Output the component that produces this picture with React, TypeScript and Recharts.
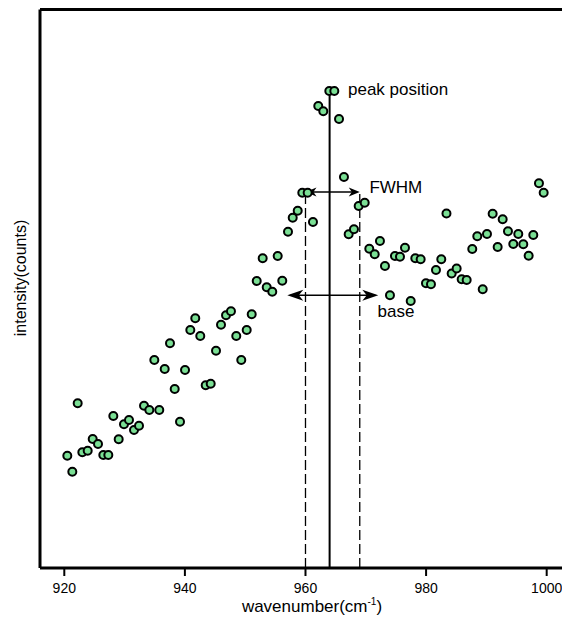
import React from 'react';
import { ScatterChart, Scatter, XAxis, YAxis, ReferenceLine, ReferenceDot } from 'recharts';

const wavenumber = [
  920.5, 921.33, 922.22, 922.99, 923.88, 924.71, 925.59, 926.47, 927.3, 928.13,
  929.02, 929.9, 930.73, 931.56, 932.39, 933.22, 934.1, 934.93, 935.75, 936.65,
  937.53, 938.31, 939.19, 940.02, 940.9, 941.72, 942.55, 943.45, 944.28, 945.16,
  945.99, 946.82, 947.64, 948.52, 949.35, 950.25, 951.08, 951.91, 952.9, 953.57,
  954.49, 955.39, 956.15, 957.1, 957.88, 958.71, 959.47, 960.36, 961.24, 962.12,
  962.95, 963.95, 964.78, 965.56, 966.38, 967.16, 968.04, 968.82, 969.82, 970.58,
  971.48, 972.35, 973.18, 974.01, 974.84, 975.67, 976.5, 977.45, 978.21, 979.1,
  979.98, 980.81, 981.64, 982.52, 983.38, 984.24, 985.07, 985.9, 986.73, 987.66,
  988.49, 989.39, 990.1, 991.04, 991.87, 992.7, 993.58, 994.46, 995.29, 996.12,
  997.01, 997.78, 998.72, 999.5,
];

const intensity = [
  114.3, 98.3, 166.7, 117.7, 119.3, 131, 126, 115, 115, 154,
  130.7, 145.7, 150, 140, 144.3, 164.3, 160, 210, 160, 201,
  226.7, 181, 148.3, 200, 240, 251.7, 234, 184.7, 186.3, 219.3,
  245.3, 254.7, 258.7, 234, 210, 240, 255.7, 289, 311.7, 282.7,
  278.3, 314, 289.3, 338.3, 352.3, 359.3, 377.3, 377.3, 348, 464,
  458.7, 479, 479, 451, 393, 335.7, 340.7, 364, 367.3, 321.3,
  315.7, 329, 304, 274.7, 314, 313.3, 322.3, 269, 311.7, 310.7,
  286.7, 285.7, 300, 310.7, 356.5, 296.5, 301.5, 290.7, 290, 321,
  333.7, 280.7, 336, 356.3, 323, 350.7, 338.7, 326, 336, 325.7,
  314.3, 335, 386.7, 377.3,
];

const xTicks = [920, 940, 960, 980, 1000];
const xDomain = [915.97, 1002.54];
const yDomain = [2, 560.5];

const peakPosition = 964;
const peakTop = 479;
const fwhmLeft = 960;
const fwhmRight = 969;
const fwhmLevel = 378;
const baseLeft = 956.98;
const baseRight = 972.07;
const baseLevel = 274.7;

const peakLabel = { text: 'peak position', x: 967.05, y: 475 };
const fwhmLabel = { text: 'FWHM', x: 970.6, y: 376.7 };
const baseLabel = { text: 'base', x: 971.95, y: 253.3 };

const FONT = '"Liberation Sans", Arial, Helvetica, sans-serif';
const GREEN = '#7ADF94';

const data = wavenumber.map((x, i) => ({ x, y: intensity[i] }));

function arrowHead(tipX: number, tipY: number, dir: number, len: number, half: number) {
  const bx = tipX - dir * len;
  const nx = tipX - dir * len * 0.72;
  return `M${tipX},${tipY} L${bx},${tipY - half} L${nx},${tipY} L${bx},${tipY + half} Z`;
}

const makeDoubleArrow = (len: number, half: number, width: number) => (props: any) => {
  const { x1, y1, x2 } = props;
  const l = Math.min(x1, x2);
  const r = Math.max(x1, x2);
  return (
    <g>
      <line x1={l + 3} y1={y1} x2={r - 3} y2={y1} stroke="#000" strokeWidth={width} />
      <path d={arrowHead(l, y1, -1, len, half)} fill="#000" />
      <path d={arrowHead(r, y1, 1, len, half)} fill="#000" />
    </g>
  );
};

const makeText = (txt: string) => (p: any) => (
  <text x={p.cx} y={p.cy} fontSize={17} fontFamily={FONT} fill="#000">
    {txt}
  </text>
);

const Dot = (p: any) => (
  <circle cx={p.cx} cy={p.cy} r={4} fill={GREEN} stroke="#000" strokeWidth={2} />
);

const YLabel = () => (
  <text
    x={20}
    y={278}
    transform="rotate(-90, 20, 278)"
    textAnchor="middle"
    dominantBaseline="central"
    fontSize={16}
    fontFamily={FONT}
    fill="#000"
  >
    intensity(counts)
  </text>
);

const XLabel = () => (
  <text x={312} y={612} textAnchor="middle" fontSize={17} fontFamily={FONT} fill="#000">
    <tspan>wavenumber(cm</tspan>
    <tspan fontSize={10} dy={-7}>-1</tspan>
    <tspan dy={7}>)</tspan>
  </text>
);

export default function App() {
  return (
    <div style={{ width: 562, height: 617, background: '#fff' }}>
      <style>{`html,body{margin:0;padding:0;overflow:hidden;background:#fff}`}</style>
      <ScatterChart width={562} height={617} margin={{ top: 9.5, right: 0, bottom: 0, left: 0 }}>
        <XAxis
          type="number"
          dataKey="x"
          domain={xDomain}
          ticks={xTicks}
          allowDataOverflow
          height={49}
          tickSize={8}
          tickMargin={7}
          tickLine={{ stroke: '#000', strokeWidth: 2 }}
          axisLine={{ stroke: '#000', strokeWidth: 3 }}
          tick={{ fill: '#000', fontSize: 14, fontFamily: FONT }}
          label={{ content: XLabel }}
        />
        <YAxis
          type="number"
          dataKey="y"
          domain={yDomain}
          allowDataOverflow
          width={40}
          tick={false}
          tickLine={false}
          axisLine={{ stroke: '#000', strokeWidth: 3 }}
          label={{ content: YLabel }}
        />
        <ReferenceLine y={yDomain[1]} stroke="#000" strokeWidth={3} />
        <ReferenceLine
          segment={[{ x: peakPosition, y: yDomain[0] }, { x: peakPosition, y: peakTop }]}
          stroke="#000"
          strokeWidth={2}
        />
        <ReferenceLine
          segment={[{ x: fwhmLeft, y: yDomain[0] }, { x: fwhmLeft, y: fwhmLevel }]}
          stroke="#000"
          strokeWidth={1.3}
          strokeDasharray="10 4"
        />
        <ReferenceLine
          segment={[{ x: fwhmRight, y: yDomain[0] }, { x: fwhmRight, y: fwhmLevel }]}
          stroke="#000"
          strokeWidth={1.3}
          strokeDasharray="10 4"
        />
        <Scatter data={data} isAnimationActive={false} shape={Dot} />
        <ReferenceLine
          segment={[{ x: fwhmLeft, y: fwhmLevel }, { x: fwhmRight, y: fwhmLevel }]}
          shape={makeDoubleArrow(11, 4.5, 1.5)}
        />
        <ReferenceLine
          segment={[{ x: baseLeft, y: baseLevel }, { x: baseRight, y: baseLevel }]}
          shape={makeDoubleArrow(16, 5.5, 1.6)}
        />
        <ReferenceDot x={peakLabel.x} y={peakLabel.y} r={0} shape={makeText(peakLabel.text)} />
        <ReferenceDot x={fwhmLabel.x} y={fwhmLabel.y} r={0} shape={makeText(fwhmLabel.text)} />
        <ReferenceDot x={baseLabel.x} y={baseLabel.y} r={0} shape={makeText(baseLabel.text)} />
      </ScatterChart>
    </div>
  );
}
